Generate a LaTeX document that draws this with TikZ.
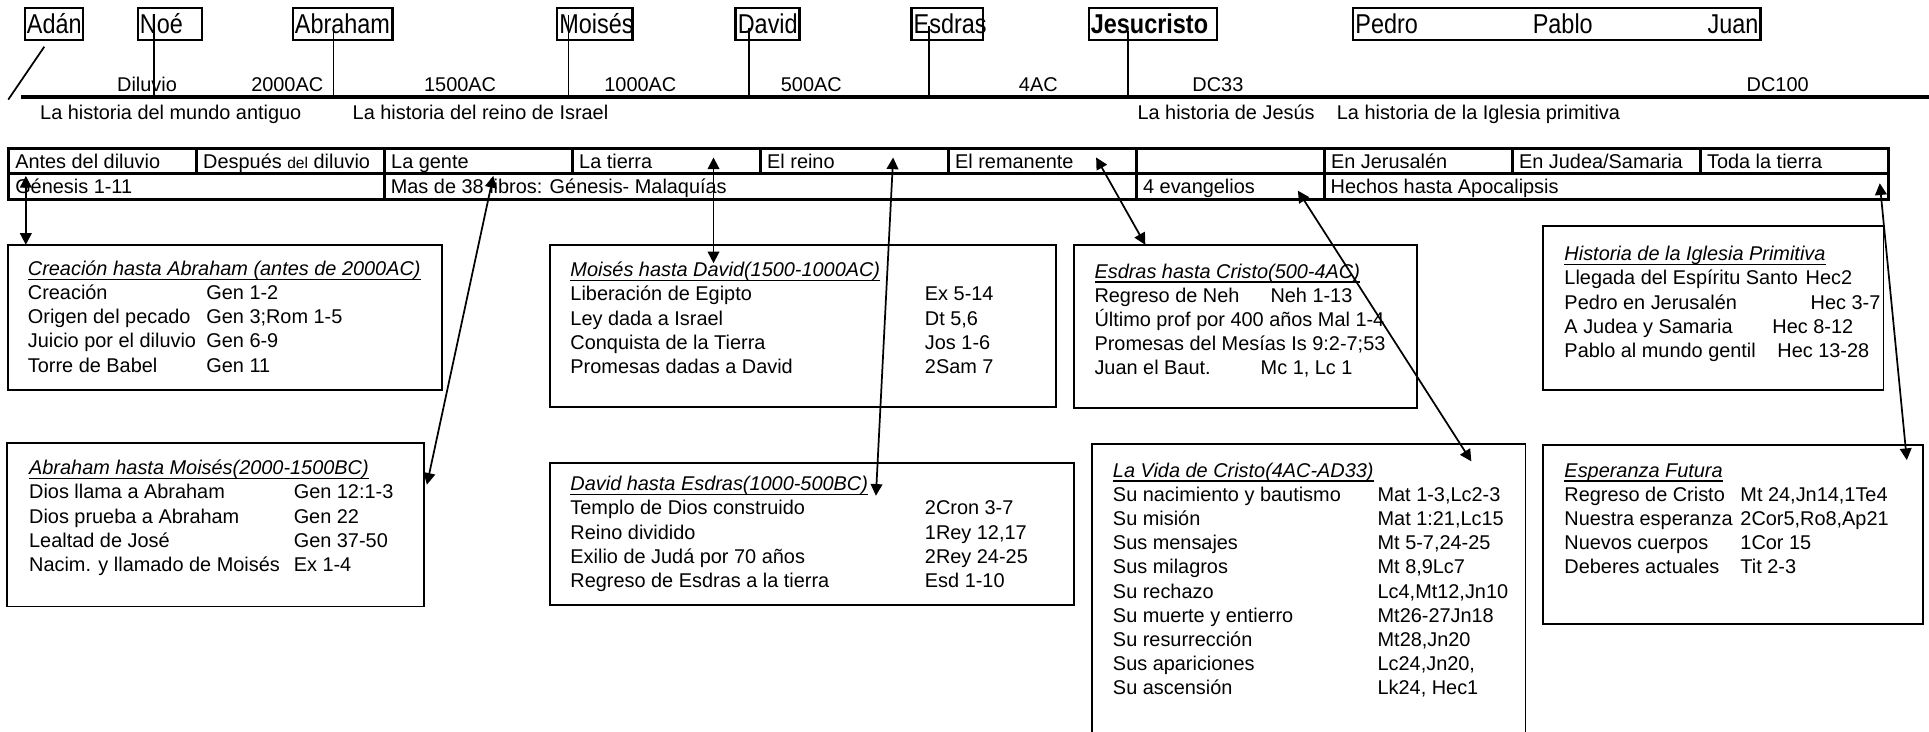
\documentclass[tikz,border=0pt]{standalone}
\usepackage{fontspec}
\setmainfont{Liberation Sans}
\newfontfamily\condfont[FakeStretch=0.86]{Liberation Sans}
\usetikzlibrary{arrows.meta,calc}

\newcommand{\sm}{\fontsize{4.6}{5.58}\selectfont}
\newcommand{\nm}{\condfont\fontsize{6.3}{6.5}\selectfont}
\newsavebox{\ttlbox}
\newcommand{\ttl}[1]{\sbox{\ttlbox}{\textit{#1}}\rlap{\rule[-1.05pt]{\wd\ttlbox}{0.32pt}}\usebox{\ttlbox}}
\newcommand{\itm}[3]{\makebox[#1cm][l]{#2}#3}

\begin{document}
\begin{tikzpicture}[x=0.01cm,y=-0.01cm,
  namebox/.style={draw,line width=0.55pt,anchor=north west,inner xsep=0.5pt,inner ysep=0pt,minimum height=0.26cm,text width=#1cm,font=\nm},
  lbl/.style={anchor=base,inner sep=0pt,font=\sm},
  cell/.style={anchor=base west,inner sep=0pt,font=\sm},
  boxtext/.style={anchor=base west,inner sep=0pt,font=\sm},
  tab/.style={line width=0.7pt},
  frame/.style={line width=0.45pt},
  dbl/.style={{Triangle[length=2.7pt,width=2.7pt]}-{Triangle[length=2.7pt,width=2.7pt]},line width=0.4pt}]

\useasboundingbox (0,0) rectangle (1568,595);

%names
\node[namebox=0.44] (adan) at (19.2,5.5) {Adán};
\node[namebox=0.485] (noe) at (111,5.5) {Noé};
\node[namebox=0.775] (abraham) at (237,5.5) {Abraham};
\node[namebox=0.575] (moises) at (452,5.5) {Moisés};
\node[namebox=0.485] (david) at (597,5.5) {David};
\node[namebox=0.545] (esdras) at (740,5.5) {Esdras};
\node[namebox=1.005] (jesus) at (884,5.5) {\textbf{Jesucristo}};
\node[namebox=3.275] (apost) at (1099,5.5) {Pedro\hfill Pablo\hfill Juan};

%timeline
\coordinate (tlA) at (17,79);
\coordinate (tlB) at (1568,79);
\draw [line width=0.85pt] (tlA) -- (tlB);
\draw [line width=0.4pt] (6.7,81) -- (36,38);

\foreach \n/\dx/\dy in {noe/14/6, abraham/34/16, moises/10/7, david/12/17, esdras/15/16, jesus/33/20}{
  \path ($(\n.north west)+(\dx,\dy)$) coordinate (k\n);
  \draw [line width=0.4pt] (k\n) -- (k\n |- tlA);
}

\node[lbl] (d1) at (119.5,74) {Diluvio};
\node[lbl] (d2) at (233.5,74) {2000AC};
\node[lbl] (d3) at (374,74) {1500AC};
\node[lbl] (d4) at (520.5,74) {1000AC};
\node[lbl] (d5) at (659.5,74) {500AC};
\node[lbl] (d6) at (844,74) {4AC};
\node[lbl] (d7) at (990,74) {DC33};
\node[lbl] (d8) at (1445,74) {DC100};

\node[cell] (h1) at (32,97.5) {La historia del mundo antiguo};
\node[cell] (h2) at (286,97.5) {La historia del reino de Israel};
\node[cell] (h3) at (924,97.5) {La historia de Jesús};
\node[cell] (h4) at (1086,97.5) {La historia de la Iglesia primitiva};

%table
\draw [tab] (6.7,121) rectangle (1534.7,162);
\draw [tab] (6.7,141) -- (1534.7,141);
\foreach \i in {1,...,9} \draw [tab] (6.7+152.8*\i,121) -- (6.7+152.8*\i,141);
\foreach \x in {312.3,923.5,1076.3} \draw [tab] (\x,141) -- (\x,162);

\foreach \i/\t in {0/Antes del diluvio, 1/{Después {\fontsize{3.6}{4}\selectfont del} diluvio}, 2/La gente, 3/La tierra, 4/El reino, 5/El remanente, 7/En Jerusalén, 8/{En Judea/Samaria}, 9/Toda la tierra}
  \node[cell] (r1c\i) at (6.7+152.8*\i+5,136.7) {\t};

\node[cell] (r2a) at (11.7,157) {Génesis 1-11};
\node[cell] (r2b) at (317,157) {Mas de 38 libros: Génesis- Malaquías};
\node[cell] (r2c) at (928.5,157) {4 evangelios};
\node[cell] (r2d) at (1081,157) {Hechos hasta Apocalipsis};

%boxes
\draw [frame] (6.7,199) rectangle (359,317);
\node[boxtext] (cre) at (22,224) {\begin{tabular}[t]{@{}l@{}}
\ttl{Creación hasta Abraham (antes de 2000AC)}\\
\itm{1.45}{Creación}{Gen 1-2}\\
\itm{1.45}{Origen del pecado}{Gen 3;Rom 1-5}\\
\itm{1.45}{Juicio por el diluvio}{Gen 6-9}\\
\itm{1.45}{Torre de Babel}{Gen 11}
\end{tabular}};

\draw [frame] (6,360) rectangle (345,493);
\node[boxtext] (abr) at (23,386) {\begin{tabular}[t]{@{}l@{}}
\ttl{Abraham hasta Moisés(2000-1500BC)}\\
\itm{2.15}{Dios llama a Abraham}{Gen 12:1-3}\\
\itm{2.15}{Dios prueba a Abraham}{Gen 22}\\
\itm{2.15}{Lealtad de José}{Gen 37-50}\\
\itm{2.15}{Nacim. y llamado de Moisés}{Ex 1-4}
\end{tabular}};

\draw [frame] (447,199) rectangle (858,331);
\node[boxtext] (moi) at (463,225) {\begin{tabular}[t]{@{}l@{}}
\ttl{Moisés hasta David(1500-1000AC)}\\
\itm{2.88}{Liberación de Egipto}{Ex 5-14}\\
\itm{2.88}{Ley dada a Israel}{Dt 5,6}\\
\itm{2.88}{Conquista de la Tierra}{Jos 1-6}\\
\itm{2.88}{Promesas dadas a David}{2Sam 7}
\end{tabular}};

\draw [frame] (447,376) rectangle (873,492);
\node[boxtext] (dav) at (463,399) {\begin{tabular}[t]{@{}l@{}}
\ttl{David hasta Esdras(1000-500BC)}\\
\itm{2.88}{Templo de Dios construido}{2Cron 3-7}\\
\itm{2.88}{Reino dividido}{1Rey 12,17}\\
\itm{2.88}{Exilio de Judá por 70 años}{2Rey 24-25}\\
\itm{2.88}{Regreso de Esdras a la tierra}{Esd 1-10}
\end{tabular}};

\draw [frame] (873,199) rectangle (1152,332);
\node[boxtext] (esd) at (889,226) {\begin{tabular}[t]{@{}l@{}}
\ttl{Esdras hasta Cristo(500-4AC)}\\
\itm{1.43}{Regreso de Neh}{Neh 1-13}\\
Último prof por 400 años Mal 1-4\\
Promesas del Mesías Is 9:2-7;53\\
\itm{1.35}{Juan el Baut.}{Mc 1, Lc 1}
\end{tabular}};

\draw [frame] (1254,184) rectangle (1531,317);
\node[boxtext] (igl) at (1271,212) {\begin{tabular}[t]{@{}l@{}}
\ttl{Historia de la Iglesia Primitiva}\\
\itm{1.96}{Llegada del Espíritu Santo}{Hec2}\\
\itm{2.00}{Pedro en Jerusalén}{Hec 3-7}\\
\itm{1.69}{A Judea y Samaria}{Hec 8-12}\\
\itm{1.73}{Pablo al mundo gentil}{Hec 13-28}
\end{tabular}};

\draw [frame] (888,600) -- (888,361) -- (1240,361) -- (1240,600);
\node[boxtext] (vid) at (904,388) {\begin{tabular}[t]{@{}l@{}}
\ttl{La Vida de Cristo(4AC-AD33)}\\
\itm{2.15}{Su nacimiento y bautismo}{Mat 1-3,Lc2-3}\\
\itm{2.15}{Su misión}{Mat 1:21,Lc15}\\
\itm{2.15}{Sus mensajes}{Mt 5-7,24-25}\\
\itm{2.15}{Sus milagros}{Mt 8,9Lc7}\\
\itm{2.15}{Su rechazo}{Lc4,Mt12,Jn10}\\
\itm{2.15}{Su muerte y entierro}{Mt26-27Jn18}\\
\itm{2.15}{Su resurrección}{Mt28,Jn20}\\
\itm{2.15}{Sus apariciones}{Lc24,Jn20,}\\
\itm{2.15}{Su ascensión}{Lk24, Hec1}
\end{tabular}};

\draw [frame] (1254,362) rectangle (1563,507);
\node[boxtext] (esp) at (1271,388) {\begin{tabular}[t]{@{}l@{}}
\ttl{Esperanza Futura}\\
\itm{1.43}{Regreso de Cristo}{Mt 24,Jn14,1Te4}\\
\itm{1.43}{Nuestra esperanza}{2Cor5,Ro8,Ap21}\\
\itm{1.43}{Nuevos cuerpos}{1Cor 15}\\
\itm{1.43}{Deberes actuales}{Tit 2-3}
\end{tabular}};

%arrows
\coordinate (genA) at (21,143);   \coordinate (creA) at (21,199);
\coordinate (libA) at (401,143);  \coordinate (abrA) at (347,394);
\coordinate (tieA) at (580,128);  \coordinate (moiA) at (580,214);
\coordinate (reiA) at (726,128);  \coordinate (davA) at (712,403);
\coordinate (remA) at (891,128);  \coordinate (esdA) at (931,199);
\coordinate (evaA) at (1055,155); \coordinate (vidA) at (1196,375);
\coordinate (todA) at (1528,149); \coordinate (espA) at (1550,374);

\draw [dbl] (genA) -- (creA);
\draw [dbl] (libA) -- (abrA);
\draw [dbl] (tieA) -- (moiA);
\draw [dbl] (reiA) -- (davA);
\draw [dbl] (remA) -- (esdA);
\draw [dbl] (evaA) -- (vidA);
\draw [dbl] (todA) -- (espA);
\end{tikzpicture}
\end{document}
